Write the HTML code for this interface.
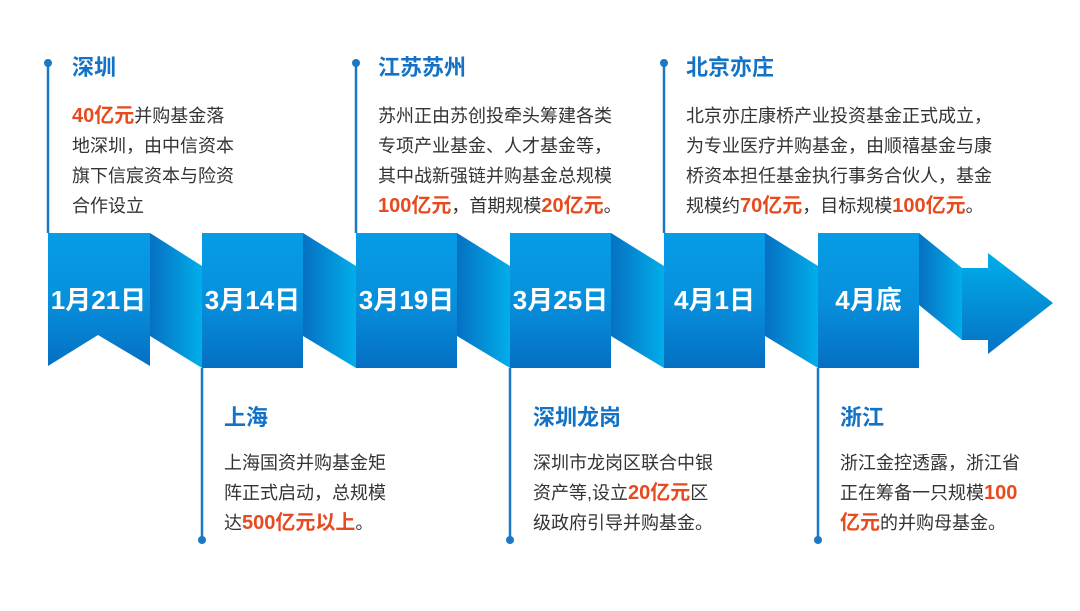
<!DOCTYPE html>
<html><head><meta charset="utf-8"><style>
html,body{margin:0;padding:0;background:#fff;}
body{width:1080px;height:611px;position:relative;overflow:hidden;font-family:"Liberation Sans","Noto Sans CJK SC",sans-serif;}
.t{position:absolute;font-size:22px;font-weight:bold;color:#1372c6;line-height:30px;white-space:nowrap;}
.b{position:absolute;font-size:18px;color:#333;line-height:30px;white-space:nowrap;}
.b em{font-style:normal;font-weight:bold;color:#e84a1f;font-size:20px;}
.d{position:absolute;width:101px;text-align:center;color:#fff;font-weight:bold;font-size:26px;top:285px;line-height:30px;white-space:nowrap;}
</style></head><body>
<svg width="1080" height="611" style="position:absolute;left:0;top:0">
<defs>
<linearGradient id="p" x1="0" y1="0" x2="0" y2="1"><stop offset="0" stop-color="#079ce6"/><stop offset="0.5" stop-color="#0790dc"/><stop offset="1" stop-color="#056fc2"/></linearGradient>
<linearGradient id="c" x1="0" y1="0" x2="1" y2="0"><stop offset="0" stop-color="#0670c2"/><stop offset="1" stop-color="#00aeea"/></linearGradient>
<linearGradient id="a" x1="0" y1="0" x2="0" y2="1"><stop offset="0" stop-color="#00aeea"/><stop offset="1" stop-color="#0672c4"/></linearGradient>
</defs>
<g stroke="#1a78c6" stroke-width="2.5">
<line x1="48" y1="63" x2="48" y2="233"/><line x1="356" y1="63" x2="356" y2="233"/><line x1="664" y1="63" x2="664" y2="233"/>
<line x1="202" y1="368" x2="202" y2="540"/><line x1="510" y1="368" x2="510" y2="540"/><line x1="818" y1="368" x2="818" y2="540"/>
</g>
<g fill="#1a78c6">
<circle cx="48" cy="63" r="4"/><circle cx="356" cy="63" r="4"/><circle cx="664" cy="63" r="4"/>
<circle cx="202" cy="540" r="4"/><circle cx="510" cy="540" r="4"/><circle cx="818" cy="540" r="4"/>
</g>
<g fill="url(#c)">
<polygon points="150,233 202,266 202,368 150,336"/>
<polygon points="303,233 356,266 356,368 303,336"/>
<polygon points="457,233 510,266 510,368 457,336"/>
<polygon points="611,233 664,266 664,368 611,336"/>
<polygon points="765,233 818,266 818,368 765,336"/>
<polygon points="919,233 962,268 962,340 919,305"/>
</g>
<polygon points="48,233 150,233 150,366 98,335 48,366" fill="url(#p)"/>
<rect x="202" y="233" width="101" height="135" fill="url(#p)"/>
<rect x="356" y="233" width="101" height="135" fill="url(#p)"/>
<rect x="510" y="233" width="101" height="135" fill="url(#p)"/>
<rect x="664" y="233" width="101" height="135" fill="url(#p)"/>
<rect x="818" y="233" width="101" height="135" fill="url(#p)"/>
<polygon points="962,268 988,268 988,253 1053,303 988,354 988,340 962,340" fill="url(#a)"/>
</svg>
<div class="d" style="left:48px">1月21日</div>
<div class="d" style="left:202px">3月14日</div>
<div class="d" style="left:356px">3月19日</div>
<div class="d" style="left:510px">3月25日</div>
<div class="d" style="left:664px">4月1日</div>
<div class="d" style="left:818px">4月底</div>

<div class="t" style="left:72px;top:53px">深圳</div>
<div class="b" style="left:72px;top:101px"><em>40亿元</em>并购基金落<br>地深圳，由中信资本<br>旗下信宸资本与险资<br>合作设立</div>

<div class="t" style="left:378px;top:53px">江苏苏州</div>
<div class="b" style="left:378px;top:101px">苏州正由苏创投牵头筹建各类<br>专项产业基金、人才基金等，<br>其中战新强链并购基金总规模<br><em>100亿元</em>，首期规模<em>20亿元</em>。</div>

<div class="t" style="left:686px;top:53px">北京亦庄</div>
<div class="b" style="left:686px;top:101px">北京亦庄康桥产业投资基金正式成立，<br>为专业医疗并购基金，由顺禧基金与康<br>桥资本担任基金执行事务合伙人，基金<br>规模约<em>70亿元</em>，目标规模<em>100亿元</em>。</div>

<div class="t" style="left:224px;top:403px">上海</div>
<div class="b" style="left:224px;top:448px">上海国资并购基金矩<br>阵正式启动，总规模<br>达<em>500亿元以上</em>。</div>

<div class="t" style="left:533px;top:403px">深圳龙岗</div>
<div class="b" style="left:533px;top:448px">深圳市龙岗区联合中银<br>资产等,设立<em>20亿元</em>区<br>级政府引导并购基金。</div>

<div class="t" style="left:840px;top:403px">浙江</div>
<div class="b" style="left:840px;top:448px">浙江金控透露，浙江省<br>正在筹备一只规模<em>100</em><br><em>亿元</em>的并购母基金。</div>
</body></html>
